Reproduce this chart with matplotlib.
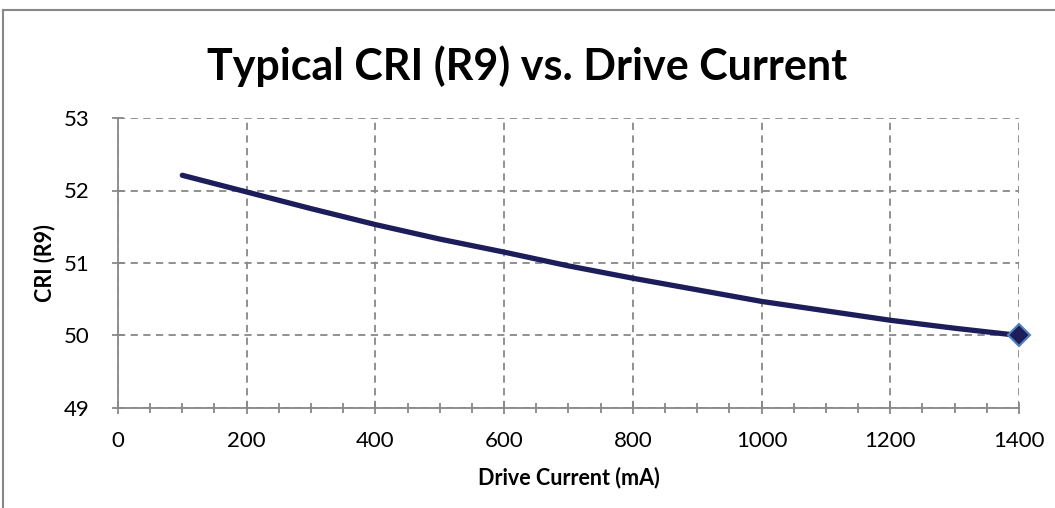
import numpy as np
import matplotlib.pyplot as plt
from matplotlib.lines import Line2D
from matplotlib.ticker import MultipleLocator

plt.rcParams['font.family'] = ['Lato', 'DejaVu Sans']

# data
drive_current = [100, 200, 300, 400, 500, 600, 700, 800, 900, 1000, 1100, 1200, 1300, 1400]
cri_r9 = [52.21, 51.98, 51.75, 51.53, 51.33, 51.15, 50.96, 50.79, 50.63, 50.47, 50.34, 50.21, 50.10, 50.00]

title = "Typical CRI (R9) vs. Drive Current"
x_label = "Drive Current (mA)"
y_label = "CRI (R9)"

grey = "#888888"
navy = "#1d1d5b"

fig = plt.figure(figsize=(10.55, 5.08), dpi=100)
ax = fig.add_axes([0.1118, 0.1969, 0.8541, 0.5708])

ax.plot(drive_current, cri_r9, color=navy, lw=3.8, solid_capstyle='round', zorder=3)
ax.plot(drive_current[-1:], cri_r9[-1:], linestyle='none', marker='D', ms=11,
        mfc=navy, mec="#4f81bd", mew=1.5, zorder=4, clip_on=False)

ax.set_xlim(0, 1400)
ax.set_ylim(49, 53)
ax.xaxis.set_major_locator(MultipleLocator(200))
ax.xaxis.set_minor_locator(MultipleLocator(50))
ax.yaxis.set_major_locator(MultipleLocator(1))

ax.grid(True, which='major', color=grey, ls=(0, (4, 3)), lw=1.3)
ax.set_axisbelow(True)

for side in ['top', 'right']:
    ax.spines[side].set_visible(False)
for side in ['left', 'bottom']:
    ax.spines[side].set_color(grey)
    ax.spines[side].set_linewidth(1.3)

ax.tick_params(axis='both', which='major', direction='inout', length=9, width=1.3,
               color=grey, labelsize=16)
ax.tick_params(axis='y', pad=16)
ax.tick_params(axis='x', which='minor', direction='inout', length=7, width=1.3, color=grey)
ax.tick_params(axis='x', pad=12)

ax.set_xlabel(x_label, fontsize=15.5, fontweight='bold')
ax.set_ylabel(y_label, fontsize=15.5, fontweight='bold')
ax.xaxis.set_label_coords(0.5, -0.241)
ax.yaxis.set_label_coords(-0.082, 0.5)
ax.xaxis.label.set_va('center')
ax.yaxis.label.set_va('center')
fig.text(0.5, 0.87, title, ha='center', va='center', fontsize=31, fontweight='bold')

# chart frame (cropped at right and bottom)
fig.add_artist(Line2D([0.003, 0.003], [0, 0.981], color=grey, lw=1.5, transform=fig.transFigure))
fig.add_artist(Line2D([0.003, 1.0], [0.981, 0.981], color=grey, lw=1.5, transform=fig.transFigure))

fig.savefig("out.png", dpi=100)
